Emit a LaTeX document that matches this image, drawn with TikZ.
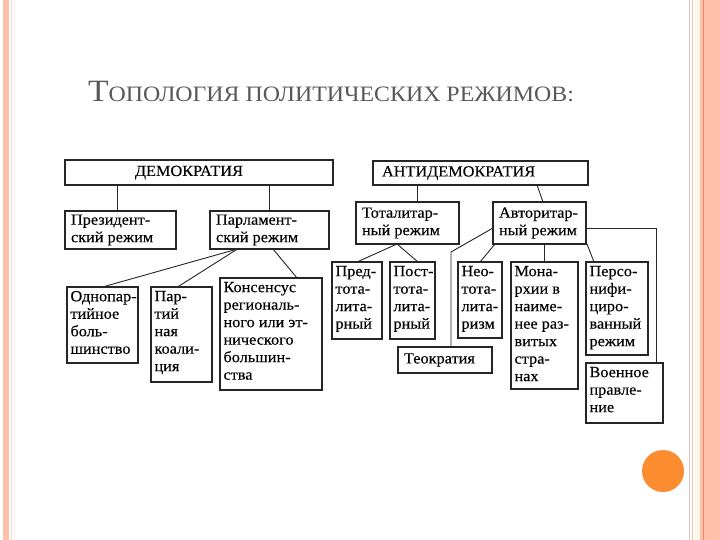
\documentclass[tikz,border=0pt]{standalone}
\usepackage{fontspec}
\setmainfont{Liberation Serif}
\newfontfamily\diag[FakeStretch=1.05,FakeBold=0.2]{Liberation Serif}
\newcommand\bt[3]{\parbox[c][#2][t]{#1}{\raggedright\leftskip=3.5pt\vspace*{4pt}#3}}
\newcommand\bc[3]{\parbox[c][#2][c]{#1}{\raggedright\leftskip=6pt #3}}
\definecolor{salmon}{RGB}{255,192,170}
\definecolor{salmondk}{RGB}{238,135,105}
\definecolor{cream}{RGB}{255,246,234}
\definecolor{pinkline}{RGB}{246,214,214}
\definecolor{yelline}{RGB}{250,240,212}
\definecolor{tanline}{RGB}{228,200,188}
\definecolor{orng}{RGB}{252,140,48}
\definecolor{ttl}{RGB}{88,88,88}
\tikzset{
  box/.style={draw=black!85, line width=1.3pt, inner sep=0pt, outer sep=0pt,
    anchor=north west, font=\diag\fontsize{15.5pt}{17.5pt}\selectfont},
  conn/.style={draw=black!85, line width=0.9pt}
}
\begin{document}
\begin{tikzpicture}[x=1pt,y=-1pt]
\useasboundingbox (0,0) rectangle (720,540);
% slide frame
\fill[salmon] (3,0) rectangle (9,540);
\draw[pinkline, line width=1pt] (11,0) -- (11,540);
\draw[yelline, line width=1pt] (14.5,0) -- (14.5,540);
\draw[tanline, line width=1pt] (689,0) -- (689,540);
\draw[tanline, line width=0.8pt] (692.5,0) -- (692.5,540);
\fill[cream] (693.5,0) rectangle (699.5,540);
\fill[salmon] (699.5,0) rectangle (720,540);
\draw[salmondk, line width=1pt] (703,0) -- (703,540);
\fill[orng] (663,471) circle (21);
% title
\node[anchor=base west, text=ttl, inner sep=0pt] (title) at (88,102)
  {\scalebox{1.085}[1]{\fontsize{31pt}{31pt}\selectfont Т\fontsize{22pt}{22pt}\selectfont ОПОЛОГИЯ ПОЛИТИЧЕСКИХ РЕЖИМОВ:}};
% boxes
\node[box] (dem) at (65,160) {\parbox[c][25pt][c]{268pt}{\raggedright\leftskip=70pt ДЕМОКРАТИЯ}};
\node[box] (anti) at (373,161) {\parbox[c][24pt][c]{215pt}{\raggedright\leftskip=9pt АНТИДЕМОКРАТИЯ}};
\node[box] (prez) at (65,211) {\bc{111pt}{38pt}{Президент-\\ский режим}};
\node[box] (parl) at (210,211) {\bc{119pt}{38pt}{Парламент-\\ский режим}};
\node[box] (total) at (356,202) {\bc{103pt}{42pt}{Тоталитар-\\ный режим}};
\node[box] (auth) at (493,202) {\bc{93pt}{42pt}{Авторитар-\\ный режим}};
\node[box] (odno) at (67,287) {\bt{71pt}{76pt}{Однопар-\\тийное\\боль-\\шинство}};
\node[box] (part) at (151,287) {\bt{61pt}{95pt}{Пар-\\тий\\ная\\коали-\\ция}};
\node[box] (kons) at (220,278) {\bt{102pt}{112pt}{Консенсус\\региональ-\\ного или эт-\\нического\\большин-\\ства}};
\node[box] (pred) at (332,262) {\bt{50pt}{77pt}{Пред-\\тота-\\лита-\\рный}};
\node[box] (post) at (390,262) {\bt{45pt}{77pt}{Пост-\\тота-\\лита-\\рный}};
\node[box] (neo) at (458,262) {\bt{44pt}{76pt}{Нео-\\тота-\\лита-\\ризм}};
\node[box] (teo) at (398,347) {\bc{94pt}{26pt}{Теократия}};
\node[box] (mon) at (511,262) {\bt{67pt}{127pt}{Мона-\\рхии в\\наиме-\\нее раз-\\витых\\стра-\\нах}};
\node[box] (pers) at (586,262) {\bt{62pt}{93pt}{Персо-\\нифи-\\циро-\\ванный\\режим}};
\node[box] (voen) at (586,363) {\bt{77pt}{60pt}{Военное\\правле-\\ние}};
% connectors
\coordinate (tb) at (451,252);
\draw[conn] ([xshift=-3pt]dem.south -| prez.north) -- ([xshift=-3pt]prez.north);
\draw[conn] (dem.south -| parl.north) -- (parl.north);
\draw[conn] ([xshift=10pt]total.north |- anti.south) -- ([xshift=10pt]total.north);
\draw[conn] ([xshift=56.5pt]anti.south) -- ([xshift=3.5pt]auth.north);
\draw[conn] ([xshift=-32pt]parl.south) -- (odno.north);
\draw[conn] ([xshift=-32pt]parl.south) -- ([xshift=-4pt]part.north);
\draw[conn] ([xshift=3.5pt]parl.south) -- ([xshift=26pt]kons.north);
\draw[conn] ([xshift=-10.5pt]total.south) -- (pred.north);
\draw[conn] ([xshift=-10.5pt]total.south) -- ([xshift=5.5pt]post.north);
\draw[conn] ([xshift=2pt]auth.south west) -- (neo.north);
\draw[conn] ([yshift=-5pt]auth.west) -- (tb) -- (tb |- teo.north);
\draw[conn] (auth.south -| mon.north) -- (mon.north);
\draw[conn] ([xshift=1pt]auth.south east) -- ([xshift=8pt]pers.north west);
\draw[conn] ([yshift=-5pt]auth.east) -| ([xshift=31.5pt]voen.north);
\end{tikzpicture}
\end{document}
